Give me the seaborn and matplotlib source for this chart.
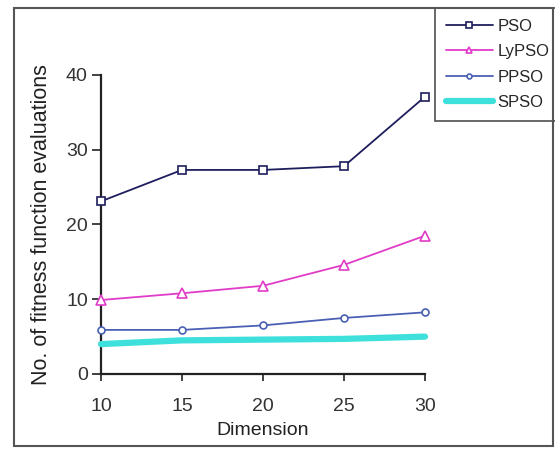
import matplotlib
matplotlib.use("Agg")
import matplotlib.pyplot as plt
import seaborn as sns
import pandas as pd
from matplotlib.patches import Rectangle

dimensions = [10, 15, 20, 25, 30]
pso = [23.1, 27.3, 27.3, 27.8, 37.1]
lypso = [9.9, 10.8, 11.8, 14.6, 18.5]
ppso = [5.9, 5.9, 6.5, 7.5, 8.25]
spso = [4.0, 4.5, 4.6, 4.7, 5.0]
series_names = ["PSO", "LyPSO", "PPSO", "SPSO"]
x_ticks = [10, 15, 20, 25, 30]
y_ticks = [0, 10, 20, 30, 40]

sns.set_theme(style="white")
plt.rcParams['font.family'] = ['Liberation Sans', 'DejaVu Sans']

fig = plt.figure(figsize=(5.55, 4.49), dpi=100)
ax = fig.add_axes([101/555, 1-374/449, 324/555, 299/449])

styles = {
    "PSO": dict(color="#1e1e5e", marker="s", lw=1.3, ms=5.5),
    "LyPSO": dict(color="#e03cc8", marker="^", lw=1.3, ms=6.5),
    "PPSO": dict(color="#4a60b4", marker="o", lw=1.3, ms=5),
    "SPSO": dict(color="#3ee0dc", marker=None, lw=4.5, ms=0),
}
values = {"PSO": pso, "LyPSO": lypso, "PPSO": ppso, "SPSO": spso}

for name in series_names:
    st = styles[name]
    df = pd.DataFrame({"Dimension": dimensions, "val": values[name]})
    kw = dict(marker=st["marker"], markersize=st["ms"], markerfacecolor="white",
              markeredgecolor=st["color"], markeredgewidth=1.2) if st["marker"] else {}
    sns.lineplot(data=df, x="Dimension", y="val", ax=ax, color=st["color"],
                 linewidth=st["lw"], label=name, clip_on=False, zorder=3, **kw)

ax.set_xlim(10, 30)
ax.set_ylim(0, 40)
ax.set_xticks(x_ticks)
ax.set_yticks(y_ticks)
ax.set_xlabel("Dimension", fontsize=14, labelpad=5, color="#222222")
ax.set_ylabel("No. of fitness function evaluations", fontsize=15.5, labelpad=10, color="#222222")
ax.tick_params(axis="both", labelsize=14, colors="#333333")
ax.tick_params(axis="x", direction="out", length=5, width=1.3, bottom=True, pad=12)
ax.tick_params(axis="y", direction="out", length=6.5, width=1.3, left=True, pad=3)
for s in ["top", "right"]:
    ax.spines[s].set_visible(False)
for s in ["left", "bottom"]:
    ax.spines[s].set_color("#222222")
    ax.spines[s].set_linewidth(1.6)
ax.patch.set_alpha(0)

leg = ax.legend(loc="upper left", bbox_to_anchor=(435/555, 1-8/449-0.01, 125/555, 0.01),
                bbox_transform=fig.transFigure, mode="expand", frameon=True, fontsize=12,
                handlelength=2.8, handletextpad=0.3, borderpad=0.65, markerscale=0.7,
                labelspacing=0.62, borderaxespad=0, fancybox=False)
leg.get_frame().set_edgecolor("#222222")
leg.get_frame().set_linewidth(1.2)

fig.patches.append(Rectangle((14/555, 3/449), 539/555, 438/449, transform=fig.transFigure,
                             fill=False, edgecolor="#555555", linewidth=1.5, zorder=0))

fig.savefig("out.png", dpi=100)
